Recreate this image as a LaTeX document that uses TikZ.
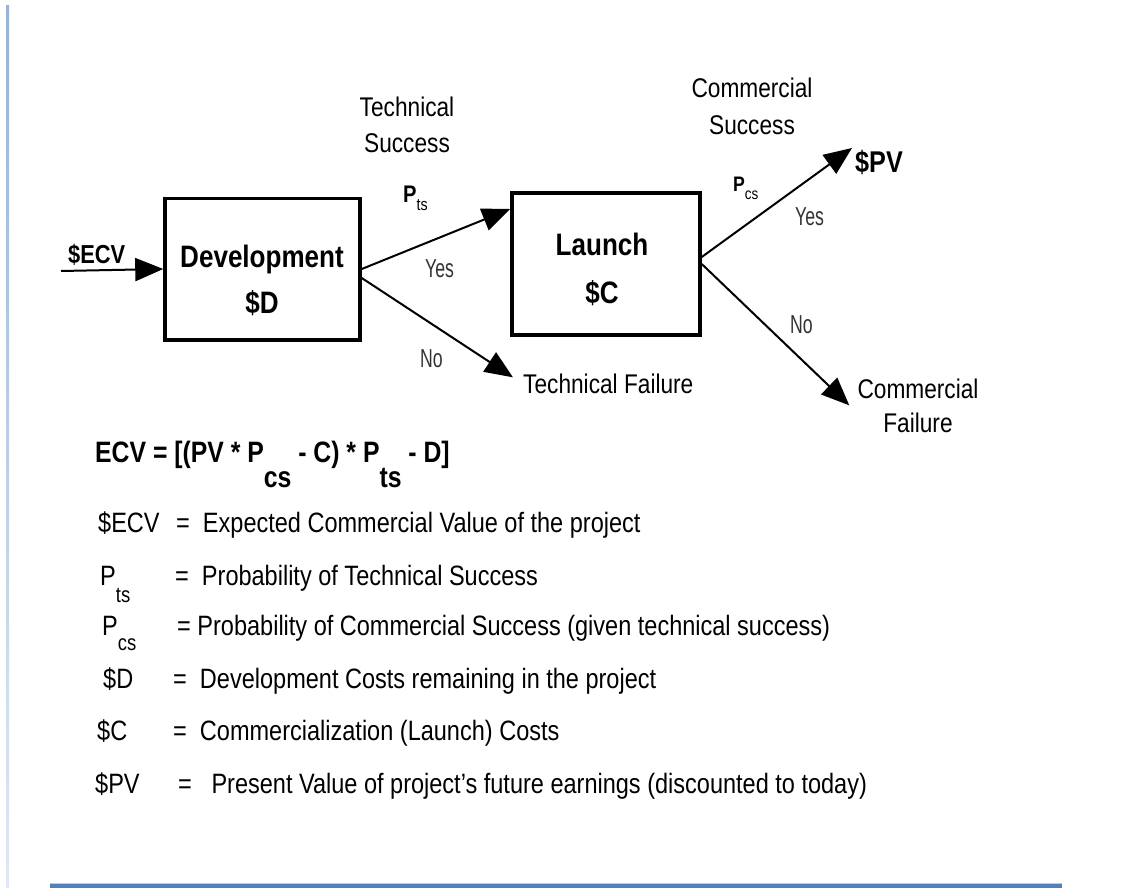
\documentclass[tikz,border=0pt]{standalone}
\usepackage{fontspec}
\setmainfont{Liberation Sans}[FakeStretch=0.84]
\newfontfamily\narrowfont{Liberation Sans}[FakeStretch=0.68]
\usetikzlibrary{arrows.meta}

\definecolor{edgeblue}{RGB}{79,129,189}
\definecolor{sideblue}{RGB}{150,180,215}
\def\lowsub#1#2{\raisebox{-#1}{#2}}

\begin{document}
\begin{tikzpicture}[
  x=1pt, y=-1pt,
  decisionbox/.style={draw=black, line width=3.5pt, inner sep=0pt},
  boxtext/.style={font=\fontsize{31}{46}\selectfont\bfseries, align=center, inner sep=0pt, anchor=base},
  branchlabel/.style={font=\fontsize{27}{36}\selectfont, align=center, inner sep=0pt, anchor=base},
  yesno/.style={font=\narrowfont\fontsize{26}{30}\selectfont, text=black!80, inner sep=0pt, anchor=base west},
  flow/.style={line width=2pt, -{Triangle[length=28pt,width=23pt]}},
  formula/.style={font=\fontsize{27}{30}\selectfont\bfseries, inner sep=0pt, anchor=base west},
  listtext/.style={font=\fontsize{28}{34}\selectfont, inner sep=0pt, anchor=base west}]
  \useasboundingbox (0,0) rectangle (1141,888);

% Page edges
  \shade[top color=sideblue, bottom color=sideblue!30] (6,6) rectangle (9,888);
  \fill[edgeblue] (50,884) rectangle (1062,888);
  \fill[edgeblue!40] (50,883) rectangle (1062,884);

% Boxes
  \node[decisionbox, minimum width=195pt, minimum height=141.5pt] (dev) at (262.5,269) {};
  \node[boxtext] (devtxt) at (262,313) {Development\\\$D};
  \node[decisionbox, minimum width=188pt, minimum height=141.5pt] (launch) at (606,264) {};
  \node[boxtext, font=\fontsize{31}{48}\selectfont\bfseries] (launchtxt) at (602,303) {Launch\\\$C};

% Branch ends and labels
  \coordinate (ecvtail) at (61,271);
  \node[formula, font=\fontsize{26}{30}\selectfont\bfseries] (ecvin) at (68,263) {\$ECV};
  \node[branchlabel] (techsucc) at (407,153) {Technical\\Success};
  \node[branchlabel, font=\fontsize{27}{37}\selectfont] (commsucc) at (752,135) {Commercial\\Success};
  \node[formula, font=\fontsize{24}{24}\selectfont\bfseries] (pts) at (403,203)
    {P\lowsub{7pt}{\fontsize{17}{17}\selectfont\mdseries ts}};
  \node[formula, font=\fontsize{21}{21}\selectfont\bfseries] (pcs) at (733,192)
    {P\lowsub{8pt}{\fontsize{16}{16}\selectfont\mdseries cs}};
  \node[yesno] (yesdev) at (425,277) {Yes};
  \node[yesno] (nodev) at (420,367) {No};
  \node[yesno] (yeslaunch) at (795,225) {Yes};
  \node[yesno] (nolaunch) at (790,333) {No};
  \node[branchlabel, anchor=base west] (techfail) at (523,393) {Technical Failure};
  \node[formula, font=\fontsize{30}{30}\selectfont\bfseries] (pv) at (855,172) {\$PV};
  \node[branchlabel, font=\fontsize{27}{34}\selectfont] (commfail) at (918,432) {Commercial\\Failure};

% Flow arrows
  \draw[flow] (ecvtail) -- (dev.west);
  \draw[flow] (dev.east) -- ([yshift=55pt]launch.west);
  \draw[flow] ([yshift=-9pt]dev.east) -- ([shift={(-10pt,6pt)}]techfail.west);
  \draw[flow] ([yshift=7pt]launch.east) -- ([shift={(-3pt,14pt)}]pv.west);
  \draw[flow] (launch.east) -- ([xshift=-8pt]commfail.west);

% Formula and legend
  \node[formula, font=\fontsize{29.5}{30}\selectfont\bfseries] (ecvformula) at (95,462)
    {ECV = [(PV * P\lowsub{25pt}{cs} - C) * P\lowsub{25pt}{ts} - D]};
  \node[listtext] (ecvkey) at (98,532) {\$ECV};
  \node[listtext] (ecvdef) at (176,532) {= \ Expected Commercial Value of the project};
  \node[listtext] (ptskey) at (100,585) {P\lowsub{17pt}{\fontsize{22}{22}\selectfont ts}};
  \node[listtext] (ptsdef) at (175,585) {= \ Probability of Technical Success};
  \node[listtext] (pcskey) at (102,635) {P\lowsub{15pt}{\fontsize{22}{22}\selectfont cs}};
  \node[listtext] (pcsdef) at (177,635) {= Probability of Commercial Success (given technical success)};
  \node[listtext] (dkey) at (103,688) {\$D};
  \node[listtext] (ddef) at (173,688) {= \ Development Costs remaining in the project};
  \node[listtext] (ckey) at (97,740) {\$C};
  \node[listtext] (cdef) at (173,740) {= \ Commercialization (Launch) Costs};
  \node[listtext] (pvkey) at (95,793) {\$PV};
  \node[listtext] (pvdef) at (178,793) {= \ \ Present Value of project's future earnings (discounted to today)};
\end{tikzpicture}
\end{document}
